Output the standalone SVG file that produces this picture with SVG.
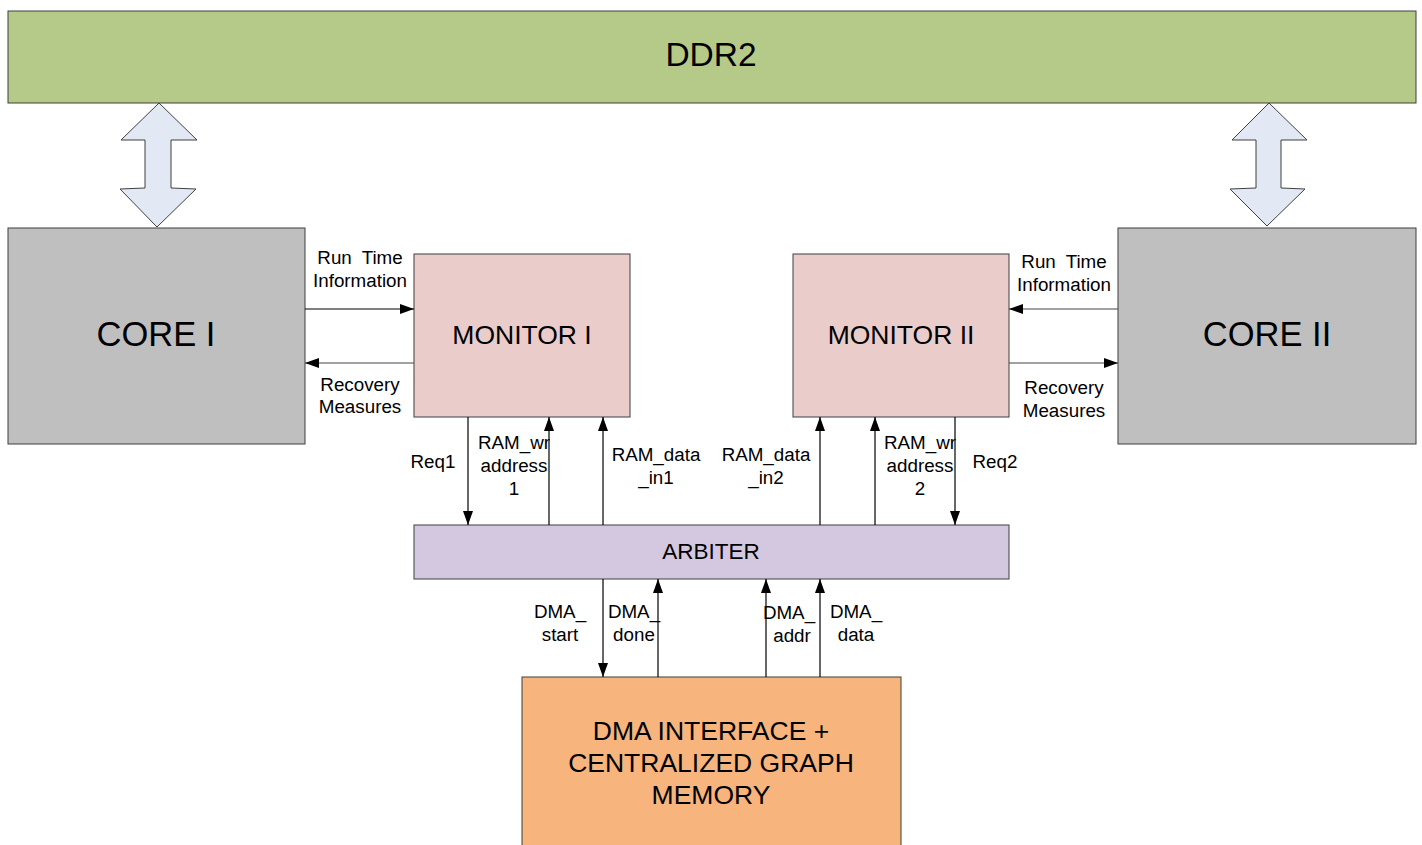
<svg xmlns="http://www.w3.org/2000/svg" width="1422" height="845" viewBox="0 0 1422 845">
<style>
.box{stroke:#3f3f3f;stroke-width:1}
.t{font-family:"Liberation Sans",Arial,sans-serif;fill:#000;text-anchor:middle}
.s{font-size:18.8px}
.ws{word-spacing:5px}
.c{stroke:#000;stroke-width:1.2;fill:none}
.g{stroke:#444;stroke-width:1.2;fill:none}
</style>
<defs>
<marker id="ah" viewBox="0 0 14 10" refX="14" refY="5" markerWidth="14" markerHeight="10" markerUnits="userSpaceOnUse" orient="auto"><path d="M0,0 L14,5 L0,10 z" fill="#000"/></marker>
</defs>
<rect width="1422" height="845" fill="#fff"/>
<g id="ddr2"><rect class="box" x="8" y="11" width="1408" height="92" fill="#b5ca88"/><text class="t" x="711" y="66" font-size="33.5">DDR2</text></g>
<g id="bus1"><path class="box" d="M159,103 L197,140 L171,140 L171,188 L196,189 L157,227 L120,189 L145,188 L145,140 L121,140 Z" fill="#e2e9f4"/></g>
<g id="bus2"><path class="box" d="M1269,103 L1307,140 L1281,140 L1281,188 L1305,189 L1267,226 L1230,189 L1256,188 L1256,140 L1232,140 Z" fill="#e2e9f4"/></g>
<g id="core1"><rect class="box" x="8" y="228" width="297" height="216" fill="#bfbfbf"/><text class="t" x="156" y="346" font-size="34.5">CORE I</text></g>
<g id="core2"><rect class="box" x="1118" y="228" width="298" height="216" fill="#bfbfbf"/><text class="t" x="1267" y="346" font-size="34.5">CORE II</text></g>
<g id="monitor1"><rect class="box" x="414" y="254" width="216" height="163" fill="#eacdcb"/><text class="t" x="522" y="344" font-size="26.5">MONITOR I</text></g>
<g id="monitor2"><rect class="box" x="793" y="254" width="216" height="163" fill="#eacdcb"/><text class="t" x="901" y="344" font-size="26.5">MONITOR II</text></g>
<g id="arbiter"><rect class="box" x="414" y="525" width="595" height="54" fill="#d3c8df"/><text class="t" x="711" y="559" font-size="22.5">ARBITER</text></g>
<g id="dma"><rect class="box" x="522" y="677" width="379" height="175" fill="#f7b47c"/><text class="t" x="711" y="740" font-size="26.5">DMA INTERFACE +</text><text class="t" x="711" y="772" font-size="26.5">CENTRALIZED GRAPH</text><text class="t" x="711" y="804" font-size="26.5">MEMORY</text></g>
<g id="connectors">
<line class="c" x1="305" y1="309" x2="414" y2="309" marker-end="url(#ah)"/>
<line class="g" x1="414" y1="363" x2="305" y2="363" marker-end="url(#ah)"/>
<line class="g" x1="1118" y1="309" x2="1009" y2="309" marker-end="url(#ah)"/>
<line class="g" x1="1009" y1="363" x2="1118" y2="363" marker-end="url(#ah)"/>
<line class="c" x1="468" y1="417" x2="468" y2="525" marker-end="url(#ah)"/>
<line class="c" x1="549" y1="525" x2="549" y2="417" marker-end="url(#ah)"/>
<line class="c" x1="603" y1="525" x2="603" y2="417" marker-end="url(#ah)"/>
<line class="c" x1="820" y1="525" x2="820" y2="417" marker-end="url(#ah)"/>
<line class="c" x1="875" y1="525" x2="875" y2="417" marker-end="url(#ah)"/>
<line class="c" x1="955" y1="417" x2="955" y2="525" marker-end="url(#ah)"/>
<line class="c" x1="603" y1="579" x2="603" y2="677" marker-end="url(#ah)"/>
<line class="c" x1="658" y1="677" x2="658" y2="579" marker-end="url(#ah)"/>
<line class="c" x1="766" y1="677" x2="766" y2="579" marker-end="url(#ah)"/>
<line class="c" x1="820" y1="677" x2="820" y2="579" marker-end="url(#ah)"/>
</g>
<g id="labels" class="t s">
<text class="ws" x="360" y="264">Run Time</text><text x="360" y="287">Information</text>
<text x="360" y="391">Recovery</text><text x="360" y="413">Measures</text>
<text class="ws" x="1064" y="268">Run Time</text><text x="1064" y="291">Information</text>
<text x="1064" y="394">Recovery</text><text x="1064" y="417">Measures</text>
<text x="433" y="468">Req1</text>
<text x="514" y="449">RAM_wr</text><text x="514" y="472">address</text><text x="514" y="495">1</text>
<text x="656" y="461">RAM_data</text><text x="656" y="484">_in1</text>
<text x="766" y="461">RAM_data</text><text x="766" y="484">_in2</text>
<text x="920" y="449">RAM_wr</text><text x="920" y="472">address</text><text x="920" y="495">2</text>
<text x="995" y="468">Req2</text>
<text x="560" y="618">DMA_</text><text x="560" y="641">start</text>
<text x="634" y="618">DMA_</text><text x="634" y="641">done</text>
<text x="789" y="619">DMA_</text><text x="792" y="642">addr</text>
<text x="856" y="618">DMA_</text><text x="856" y="641">data</text>
</g>
</svg>
